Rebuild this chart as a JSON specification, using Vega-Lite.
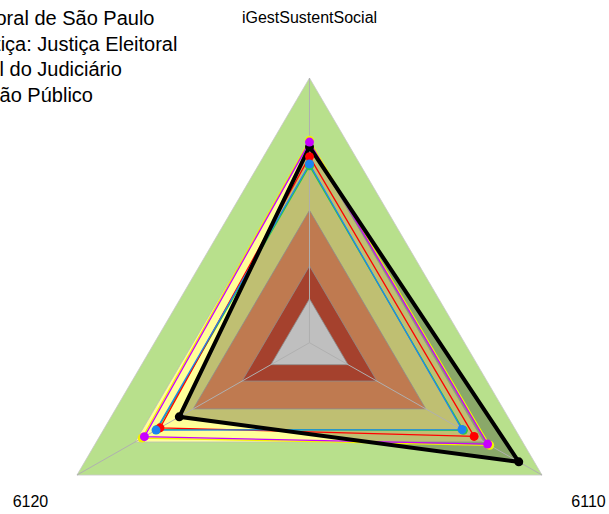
{
  "$schema": "https://vega.github.io/schema/vega-lite/v6.json",
  "width": 609,
  "height": 514,
  "autosize": {"type": "none"},
  "padding": 0,
  "background": "white",
  "config": {"view": {"stroke": null}},
  "data": {
    "values": [
      {"g": "faixa", "s": "F5", "k": 0, "v": 1.0},
      {"g": "faixa", "s": "F5", "k": 1, "v": 1.0},
      {"g": "faixa", "s": "F5", "k": 2, "v": 1.0},
      {"g": "faixa", "s": "F5", "k": 3, "v": 1.0},
      {"g": "faixa", "s": "F4", "k": 0, "v": 0.75},
      {"g": "faixa", "s": "F4", "k": 1, "v": 0.75},
      {"g": "faixa", "s": "F4", "k": 2, "v": 0.75},
      {"g": "faixa", "s": "F4", "k": 3, "v": 0.75},
      {"g": "faixa", "s": "F3", "k": 0, "v": 0.5},
      {"g": "faixa", "s": "F3", "k": 1, "v": 0.5},
      {"g": "faixa", "s": "F3", "k": 2, "v": 0.5},
      {"g": "faixa", "s": "F3", "k": 3, "v": 0.5},
      {"g": "faixa", "s": "F2", "k": 0, "v": 0.29},
      {"g": "faixa", "s": "F2", "k": 1, "v": 0.29},
      {"g": "faixa", "s": "F2", "k": 2, "v": 0.29},
      {"g": "faixa", "s": "F2", "k": 3, "v": 0.29},
      {"g": "faixa", "s": "F1", "k": 0, "v": 0.166},
      {"g": "faixa", "s": "F1", "k": 1, "v": 0.166},
      {"g": "faixa", "s": "F1", "k": 2, "v": 0.166},
      {"g": "faixa", "s": "F1", "k": 3, "v": 0.166},
      {"g": "eixo", "s": "E", "k": 0, "v": 0},
      {"g": "eixo", "s": "E", "k": 0, "v": 1},
      {"g": "eixo", "s": "E", "k": 1, "v": 0},
      {"g": "eixo", "s": "E", "k": 1, "v": 1},
      {"g": "eixo", "s": "E", "k": 2, "v": 0},
      {"g": "eixo", "s": "E", "k": 2, "v": 1},
      {"g": "serie", "s": "Tribunal Regional Eleitoral de São Paulo", "k": 0, "axis": "iGestSustentSocial", "v": 0.74},
      {"g": "serie", "s": "Tribunal Regional Eleitoral de São Paulo", "k": 1, "axis": "6110", "v": 0.9},
      {"g": "serie", "s": "Tribunal Regional Eleitoral de São Paulo", "k": 2, "axis": "6120", "v": 0.56},
      {"g": "serie", "s": "Tribunal Regional Eleitoral de São Paulo", "k": 3, "axis": "iGestSustentSocial", "v": 0.74},
      {"g": "serie", "s": "Referência 1", "k": 0, "axis": "iGestSustentSocial", "v": 0.765},
      {"g": "serie", "s": "Referência 1", "k": 1, "axis": "6110", "v": 0.775},
      {"g": "serie", "s": "Referência 1", "k": 2, "axis": "6120", "v": 0.72},
      {"g": "serie", "s": "Referência 1", "k": 3, "axis": "iGestSustentSocial", "v": 0.765},
      {"g": "serie", "s": "Referência 2", "k": 0, "axis": "iGestSustentSocial", "v": 0.668},
      {"g": "serie", "s": "Referência 2", "k": 1, "axis": "6110", "v": 0.662},
      {"g": "serie", "s": "Referência 2", "k": 2, "axis": "6120", "v": 0.655},
      {"g": "serie", "s": "Referência 2", "k": 3, "axis": "iGestSustentSocial", "v": 0.668},
      {"g": "serie", "s": "Média p/ Ramo de Justiça: Justiça Eleitoral", "k": 0, "axis": "iGestSustentSocial", "v": 0.703},
      {"g": "serie", "s": "Média p/ Ramo de Justiça: Justiça Eleitoral", "k": 1, "axis": "6110", "v": 0.708},
      {"g": "serie", "s": "Média p/ Ramo de Justiça: Justiça Eleitoral", "k": 2, "axis": "6120", "v": 0.643},
      {"g": "serie", "s": "Média p/ Ramo de Justiça: Justiça Eleitoral", "k": 3, "axis": "iGestSustentSocial", "v": 0.703},
      {"g": "serie", "s": "Média – Geral Nacional do Judiciário", "k": 0, "axis": "iGestSustentSocial", "v": 0.675},
      {"g": "serie", "s": "Média – Geral Nacional do Judiciário", "k": 1, "axis": "6110", "v": 0.656},
      {"g": "serie", "s": "Média – Geral Nacional do Judiciário", "k": 2, "axis": "6120", "v": 0.66},
      {"g": "serie", "s": "Média – Geral Nacional do Judiciário", "k": 3, "axis": "iGestSustentSocial", "v": 0.675},
      {"g": "serie", "s": "Média Nacional de Órgão Público", "k": 0, "axis": "iGestSustentSocial", "v": 0.758},
      {"g": "serie", "s": "Média Nacional de Órgão Público", "k": 1, "axis": "6110", "v": 0.766},
      {"g": "serie", "s": "Média Nacional de Órgão Público", "k": 2, "axis": "6120", "v": 0.71},
      {"g": "serie", "s": "Média Nacional de Órgão Público", "k": 3, "axis": "iGestSustentSocial", "v": 0.758},
      {"g": "rotulo", "s": "R", "k": 0, "axis": "iGestSustentSocial", "v": 1.227},
      {"g": "rotulo", "s": "R", "k": 1, "axis": "6110", "v": 1.2},
      {"g": "rotulo", "s": "R", "k": 2, "axis": "6120", "v": 1.2}
    ]
  },
  "transform": [
    {"calculate": "datum.v * sin(2 * PI * datum.k / 3)", "as": "x"},
    {"calculate": "datum.v * cos(2 * PI * datum.k / 3)", "as": "y"}
  ],
  "encoding": {
    "x": {"field": "x", "type": "quantitative", "axis": null, "scale": {"domain": [-1.1527, 1.1155], "nice": false, "zero": false}},
    "y": {"field": "y", "type": "quantitative", "axis": null, "scale": {"domain": [-0.6471, 1.2947], "nice": false, "zero": false}}
  },
  "layer": [
    {"transform": [{"filter": "datum.s === 'F5'"}], "mark": {"type": "line", "fill": "#B8E08C", "stroke": "#C8C8C8", "strokeWidth": 0.8}, "encoding": {"order": {"field": "k", "type": "quantitative"}}},
    {"transform": [{"filter": "datum.s === 'F4'"}], "mark": {"type": "line", "fill": "#FFFF99", "stroke": "#BBBBBB", "strokeWidth": 0.8}, "encoding": {"order": {"field": "k", "type": "quantitative"}}},
    {"transform": [{"filter": "datum.s === 'F3'"}], "mark": {"type": "line", "fill": "#FFA36B", "stroke": "#BBBBBB", "strokeWidth": 0.8}, "encoding": {"order": {"field": "k", "type": "quantitative"}}},
    {"transform": [{"filter": "datum.s === 'F2'"}], "mark": {"type": "line", "fill": "#DD573C", "stroke": "#BBBBBB", "strokeWidth": 0.8}, "encoding": {"order": {"field": "k", "type": "quantitative"}}},
    {"transform": [{"filter": "datum.s === 'F1'"}], "mark": {"type": "line", "fill": "#FFFFFF", "stroke": "#BBBBBB", "strokeWidth": 0.8}, "encoding": {"order": {"field": "k", "type": "quantitative"}}},
    {"transform": [{"filter": "datum.s === 'Tribunal Regional Eleitoral de São Paulo'"}], "mark": {"type": "line", "fill": "#000000", "fillOpacity": 0.25, "strokeOpacity": 0}, "encoding": {"order": {"field": "k", "type": "quantitative"}}},
    {"transform": [{"filter": "datum.g === 'eixo'"}], "mark": {"type": "line", "stroke": "#B0B0B0", "strokeWidth": 1}, "encoding": {"detail": {"field": "k", "type": "nominal"}, "order": {"field": "v", "type": "quantitative"}}},
    {
      "transform": [{"filter": "datum.g === 'serie' && datum.s !== 'Tribunal Regional Eleitoral de São Paulo'"}],
      "mark": {"type": "line", "strokeWidth": 1.3},
      "encoding": {
        "order": {"field": "k", "type": "quantitative"},
        "color": {
          "field": "s", "type": "nominal",
          "scale": {
            "domain": ["Tribunal Regional Eleitoral de São Paulo", "Média p/ Ramo de Justiça: Justiça Eleitoral", "Média – Geral Nacional do Judiciário", "Média Nacional de Órgão Público", "Referência 1", "Referência 2"],
            "range": ["#000000", "#FF0000", "#1C84F0", "#C800FF", "#F2F200", "#2ECC40"]
          },
          "legend": {
            "orient": "none", "legendX": -230, "legendY": 9, "title": null,
            "values": ["Tribunal Regional Eleitoral de São Paulo", "Média p/ Ramo de Justiça: Justiça Eleitoral", "Média – Geral Nacional do Judiciário", "Média Nacional de Órgão Público"],
            "labelFont": "Liberation Sans", "labelFontSize": 20, "labelColor": "#000000", "labelLimit": 1000,
            "rowPadding": 5.7, "padding": 0, "symbolSize": 100, "labelOffset": 5
          }
        }
      }
    },
    {"transform": [{"filter": "datum.s === 'Tribunal Regional Eleitoral de São Paulo'"}], "mark": {"type": "line", "stroke": "#000000", "strokeWidth": 4}, "encoding": {"order": {"field": "k", "type": "quantitative"}}},
    {
      "transform": [{"filter": "datum.g === 'serie' && datum.k < 3"}],
      "mark": {"type": "circle", "size": 80, "opacity": 1},
      "encoding": {"color": {"field": "s", "type": "nominal", "legend": null}}
    },
    {
      "transform": [{"filter": "datum.g === 'rotulo'"}],
      "mark": {"type": "text", "font": "Liberation Sans", "fontSize": 16, "color": "#000000", "align": "center", "baseline": "middle"},
      "encoding": {"text": {"field": "axis", "type": "nominal"}}
    }
  ]
}
